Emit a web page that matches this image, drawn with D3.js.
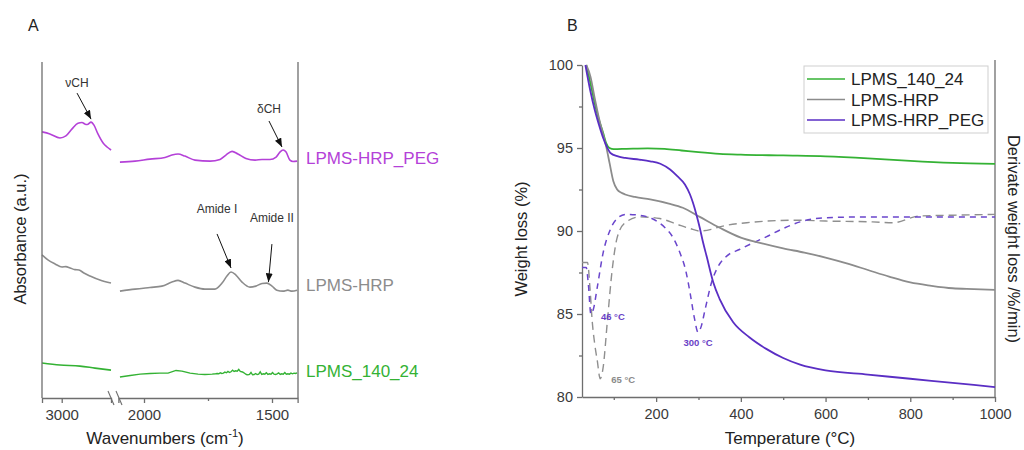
<!DOCTYPE html>
<html>
<head>
<meta charset="utf-8">
<script src="https://cdn.jsdelivr.net/npm/d3@7"></script>
<style>
  html, body { margin: 0; background: #fff; }
  svg { display: block; font-family: "Liberation Sans", Arial, sans-serif; }
  .axis path, .axis line { stroke: #6e6e6e; stroke-width: 1.3; }
  .axis text { fill: #3a3a3a; font-size: 14.5px; }
  .lbl { fill: #222; font-size: 16.5px; }
</style>
</head>
<body>
<svg id="chart" width="1024" height="450"></svg>
<script>
// ---- panel A: FTIR, [wavenumber, absorbance a.u.], split at the axis break ----
var pegHi = [[3080,79.2],[3048,78.6],[3007,77.4],[2983,78.0],[2958,80.1],[2934,81.8],[2918,82.0],[2901,81.4],
  [2893,81.5],[2881,82.1],[2869,81.2],[2853,78.6],[2832,75.9],[2816,74.7],[2800,73.8]];
var pegLo = [[2094,70.2],[2035,70.5],[1977,71.1],[1918,71.6],[1891,72.3],[1867,72.6],[1840,72.0],[1801,70.8],
  [1742,70.5],[1703,71.0],[1680,72.3],[1656,73.4],[1633,72.6],[1602,71.3],[1566,70.8],[1539,71.0],[1508,71.0],
  [1484,71.7],[1469,73.2],[1457,73.8],[1445,73.2],[1430,70.8],[1418,70.4],[1402,70.5]];
var hrpHi = [[3080,42.6],[3056,41.1],[3027,39.9],[2999,39.0],[2983,39.1],[2966,38.7],[2946,38.2],[2930,38.1],
  [2910,37.2],[2885,36.3],[2845,35.1],[2800,34.2]];
var hrpLo = [[2094,31.8],[2035,32.4],[1977,32.9],[1930,33.3],[1891,34.5],[1867,35.0],[1840,34.2],[1801,33.0],
  [1762,32.4],[1723,32.4],[1695,34.2],[1676,36.3],[1660,37.5],[1641,36.6],[1617,34.5],[1586,33.0],[1563,33.3],
  [1539,34.1],[1520,34.2],[1500,33.3],[1481,32.1],[1457,31.8],[1438,32.1],[1422,31.8],[1402,32.1]];
var lpmsHi = [[3080,10.4],[3007,9.8],[2926,9.5],[2865,8.9],[2800,8.3]];
var lpmsLo = [[2094,6.25],[2054,6.7],[2015,7.1],[1977,7.3],[1938,7.4],[1906,7.4],[1875,8.2],[1852,8.0],[1820,7.4],
  [1789,7.1],[1762,7.0],[1734,7.1],[1720,7.2],[1714,7.3],[1708,7.2],[1702,7.5],[1696,7.3],[1690,7.4],[1684,7.7],
  [1678,7.5],[1672,7.9],[1666,7.6],[1660,7.8],[1654,8.3],[1648,7.9],[1642,8.1],[1636,8.0],[1630,8.5],[1624,7.9],
  [1618,7.8],[1612,7.6],[1606,7.3],[1600,7.0],[1594,6.9],[1588,7.0],[1582,7.6],[1576,6.9],[1570,7.0],[1564,7.3],
  [1558,7.0],[1552,7.1],[1546,7.8],[1540,7.0],[1534,7.2],[1528,7.1],[1522,7.5],[1516,7.0],[1510,7.2],[1504,7.1],
  [1498,7.6],[1492,7.1],[1486,7.0],[1480,7.2],[1474,7.5],[1468,7.0],[1462,7.2],[1456,7.1],[1450,7.6],[1444,7.1],
  [1438,7.2],[1432,7.1],[1426,7.4],[1420,7.2],[1414,7.4],[1408,7.3],[1402,7.5]];
var ftirNames = ["LPMS-HRP_PEG", "LPMS-HRP", "LPMS_140_24"];
var ftirLabelAt = [71.5, 33.5, 8.0];           // absorbance level the side label sits on
var ftirTicksHi = [3000], ftirTicksLo = [2000, 1500], ftirMinorLo = [1750];
// peak annotations: tip in data space, tail/label offsets in px
var ftirNotes = [
  { t: "\u03BDCH", seg: "hi", wn: 2881, v: 83.0, dx: -14, dy: -26, ty: -32 },
  { t: "\u03B4CH", seg: "lo", wn: 1461, v: 74.7, dx: -13, dy: -26, ty: -34 },
  { t: "Amide I", seg: "lo", wn: 1660, v: 38.7, dx: -14, dy: -34, ty: -55 },
  { t: "Amide II", seg: "lo", wn: 1514, v: 34.5, dx: 3.5, dy: -38, ty: -60 }
];

// ---- panel B: TGA / DTG, [temperature °C, weight %] ----
var tgaLpms = [[35,100],[45,98.9],[55,97.7],[65,96.7],[75,95.9],[82,95.3],[90,95.0],[100,94.93],[130,94.95],
  [180,94.98],[220,94.95],[260,94.85],[300,94.75],[350,94.65],[400,94.6],[500,94.55],[600,94.5],[700,94.38],
  [800,94.22],[900,94.1],[1000,94.04]];
var tgaHrp = [[35,100],[45,99.3],[55,98.0],[65,96.8],[75,95.8],[82,95.1],[90,94.1],[99,93.0],[108,92.5],[118,92.3],
  [127,92.2],[150,92.05],[186,91.9],[230,91.65],[263,91.4],[303,90.85],[350,90.2],[400,89.6],[450,89.25],
  [500,88.95],[550,88.7],[600,88.4],[650,88.05],[700,87.65],[750,87.25],[800,86.9],[850,86.7],[900,86.55],
  [950,86.5],[1000,86.45]];
var tgaPeg = [[33,100],[45,98.4],[55,97.3],[65,96.4],[75,95.6],[85,95.0],[92,94.7],[110,94.5],[127,94.4],[160,94.3],
  [186,94.2],[210,94.05],[233,93.7],[250,93.3],[268,92.8],[280,92.2],[287,91.7],[295,91.0],[303,90.2],[310,89.4],
  [320,88.4],[335,86.9],[350,85.9],[382,84.5],[420,83.6],[460,82.9],[500,82.35],[540,81.95],[600,81.6],
  [700,81.35],[800,81.1],[900,80.85],[1000,80.6]];
var dtgPeg = [[25,87.8],[35,87.8],[40,86.8],[46,85.0],[52,85.3],[61,86.6],[75,88.7],[92,90.1],[110,90.8],[130,91.0],
  [160,90.95],[190,90.75],[221,90.2],[240,89.6],[256,88.7],[270,87.6],[280,86.3],[290,84.8],[299,83.9],[307,84.3],
  [315,85.2],[332,87.0],[345,87.8],[365,88.45],[398,88.9],[430,89.3],[460,89.65],[500,90.15],[540,90.55],
  [600,90.8],[700,90.85],[800,90.85],[900,90.85],[1000,90.85]];
var dtgHrp = [[25,88.1],[38,88.1],[44,86.5],[49,84.6],[55,83.2],[61,82.2],[68,81.1],[75,81.8],[85,84.6],[96,87.6],
  [108,89.6],[127,90.5],[162,90.85],[209,90.75],[250,90.4],[280,90.15],[303,90.0],[330,90.1],[350,90.25],
  [414,90.5],[531,90.65],[600,90.6],[711,90.55],[760,90.5],[820,90.9],[900,90.95],[1000,91.0]];
var tgaNames = ["LPMS_140_24", "LPMS-HRP", "LPMS-HRP_PEG"];
var tTicks = [200, 400, 600, 800, 1000], tMinor = [100, 300, 500, 700, 900];
var wTicks = [80, 85, 90, 95, 100], wMinor = [82.5, 87.5, 92.5, 97.5];
var dtgPeaks = [
  { t: "46 \u00B0C", T: 46, w: 85.0, dx: 10, dy: 6, anchor: "start", c: "#6a3fc6" },
  { t: "300 \u00B0C", T: 299, w: 83.9, dx: 0, dy: 14, anchor: "middle", c: "#6a3fc6" },
  { t: "65 \u00B0C", T: 68, w: 81.1, dx: 11, dy: 4, anchor: "start", c: "#8a8a8a" }
];

(function () {
  "use strict";
  var svg = d3.select("#chart");
  var GREEN = "#34b234", GRAY = "#8c8c8c", MAG = "#b441d8", INDIGO = "#5a2ec4", INDIGO_D = "#6a46cc";
  var fmt = d3.format("d");

  svg.append("defs").append("marker").attr("id", "arr").attr("viewBox", "0 0 10 8")
    .attr("refX", 10).attr("refY", 4).attr("markerWidth", 9).attr("markerHeight", 7)
    .attr("markerUnits", "userSpaceOnUse").attr("orient", "auto")
    .append("path").attr("d", "M0,0L10,4L0,8z").attr("fill", "#111");

  // ================= A =================
  var xHi = d3.scaleLinear().domain([3080, 2800]).range([42, 111]);
  var xLo = d3.scaleLinear().domain([2100, 1400]).range([118.4, 297.6]);
  var yA = d3.scaleLinear().domain([0, 100]).range([398, 62]);
  var gA = svg.append("g");

  function seg(xs) { return d3.line().x(function (d) { return xs(d[0]); }).y(function (d) { return yA(d[1]); }).curve(d3.curveMonotoneX); }
  var lineLo = d3.line().x(function (d) { return xLo(d[0]); }).y(function (d) { return yA(d[1]); });
  [[pegHi, pegLo, MAG], [hrpHi, hrpLo, GRAY], [lpmsHi, lpmsLo, GREEN]].forEach(function (s, i) {
    gA.append("path").attr("d", seg(xHi)(s[0])).attr("fill", "none").attr("stroke", s[2]).attr("stroke-width", 1.6);
    gA.append("path").attr("d", (i === 2 ? lineLo : seg(xLo))(s[1])).attr("fill", "none").attr("stroke", s[2])
      .attr("stroke-width", i === 2 ? 1.4 : 1.6);
    gA.append("text").attr("x", 306).attr("y", yA(ftirLabelAt[i]) + 6).attr("fill", s[2])
      .style("font-size", "17px").text(ftirNames[i]);
  });

  // axes + break
  var bot = yA(0);
  gA.append("line").attr("x1", 42).attr("x2", 42).attr("y1", yA(100)).attr("y2", bot).attr("class", "fr");
  gA.append("line").attr("x1", 298).attr("x2", 298).attr("y1", yA(100)).attr("y2", bot).attr("class", "fr");
  gA.selectAll("line.fr").attr("stroke", "#6e6e6e").attr("stroke-width", 1.3);
  gA.append("g").attr("class", "axis").attr("transform", "translate(0," + bot + ")")
    .call(d3.axisBottom(xHi).tickValues(ftirTicksHi).tickFormat(fmt).tickSize(5).tickSizeOuter(5).tickPadding(6));
  gA.append("g").attr("class", "axis").attr("transform", "translate(0," + bot + ")")
    .call(d3.axisBottom(xLo).tickValues(ftirTicksLo).tickFormat(fmt).tickSize(5).tickSizeOuter(5).tickPadding(6));
  gA.append("g").attr("class", "axis").attr("transform", "translate(0," + bot + ")")
    .call(d3.axisBottom(xLo).tickValues(ftirMinorLo).tickSize(3).tickFormat("")).select(".domain").remove();
  gA.selectAll(".axis text").style("font-size", "15px");
  [0, 8].forEach(function (o) {
    gA.append("line").attr("x1", 108 + o).attr("x2", 114 + o).attr("y1", bot - 7).attr("y2", bot + 7)
      .attr("stroke", "#6e6e6e").attr("stroke-width", 1.1);
  });

  ftirNotes.forEach(function (n) {
    var xs = n.seg === "hi" ? xHi : xLo, px = xs(n.wn), py = yA(n.v);
    gA.append("line").attr("x1", px + n.dx).attr("y1", py + n.dy).attr("x2", px).attr("y2", py)
      .attr("stroke", "#111").attr("stroke-width", 1).attr("marker-end", "url(#arr)");
    gA.append("text").attr("x", px + n.dx).attr("y", py + n.ty).attr("text-anchor", "middle")
      .attr("fill", "#333").style("font-size", "12px").text(n.t);
  });

  gA.append("text").attr("class", "lbl").attr("x", 28).attr("y", 31).style("font-size", "16px").text("A");
  gA.append("text").attr("class", "lbl").attr("transform", "translate(26,239) rotate(-90)")
    .attr("text-anchor", "middle").text("Absorbance (a.u.)");
  var xl = gA.append("text").attr("class", "lbl").attr("x", 165).attr("y", 444).attr("text-anchor", "middle")
    .style("font-size", "17px").text("Wavenumbers (cm");
  xl.append("tspan").attr("dy", -7).style("font-size", "11px").text("-1");
  xl.append("tspan").attr("dy", 7).text(")");

  // ================= B =================
  var x = d3.scaleLinear().domain([25, 1000]).range([582, 995]);
  var y = d3.scaleLinear().domain([80, 100]).range([397, 65]);
  var gB = svg.append("g");

  gB.append("g").attr("class", "axis").attr("transform", "translate(582,0)")
    .call(d3.axisLeft(y).tickValues(wTicks).tickFormat(fmt).tickSize(5).tickSizeOuter(0).tickPadding(4));
  gB.append("g").attr("class", "axis").attr("transform", "translate(582,0)")
    .call(d3.axisLeft(y).tickValues(wMinor).tickSize(3).tickFormat("")).select(".domain").remove();
  gB.append("g").attr("class", "axis").attr("transform", "translate(0,397)")
    .call(d3.axisBottom(x).tickValues(tTicks).tickFormat(fmt).tickSize(5).tickSizeOuter(0).tickPadding(7));
  gB.append("g").attr("class", "axis").attr("transform", "translate(0,397)")
    .call(d3.axisBottom(x).tickValues(tMinor).tickSize(3).tickFormat("")).select(".domain").remove();
  gB.append("line").attr("x1", 995).attr("x2", 995).attr("y1", 60).attr("y2", 397)
    .attr("stroke", "#6e6e6e").attr("stroke-width", 1.3);

  var ln = d3.line().x(function (d) { return x(d[0]); }).y(function (d) { return y(d[1]); }).curve(d3.curveMonotoneX);
  gB.append("path").attr("d", ln(dtgHrp)).attr("fill", "none").attr("stroke", "#8f8f8f").attr("stroke-width", 1.4).attr("stroke-dasharray", "8,5");
  gB.append("path").attr("d", ln(dtgPeg)).attr("fill", "none").attr("stroke", INDIGO_D).attr("stroke-width", 1.5).attr("stroke-dasharray", "6,5");
  var tgaCols = [GREEN, GRAY, INDIGO];
  [tgaLpms, tgaHrp, tgaPeg].forEach(function (s, i) {
    gB.append("path").attr("d", ln(s)).attr("fill", "none").attr("stroke", tgaCols[i]).attr("stroke-width", 1.8);
  });

  dtgPeaks.forEach(function (p) {
    gB.append("text").attr("x", x(p.T) + p.dx).attr("y", y(p.w) + p.dy).attr("text-anchor", p.anchor)
      .attr("fill", p.c).style("font-size", "9.5px").style("font-weight", "bold").text(p.t);
  });

  // legend
  var lg = gB.append("g").attr("transform", "translate(804,66)");
  lg.append("rect").attr("width", 184).attr("height", 67).attr("fill", "#fff").attr("stroke", "#cfcfcf");
  tgaNames.forEach(function (nm, i) {
    var yy = 13 + i * 20.5;
    lg.append("line").attr("x1", 3).attr("x2", 41).attr("y1", yy).attr("y2", yy).attr("stroke", tgaCols[i]).attr("stroke-width", 1.6);
    lg.append("text").attr("x", 47).attr("y", yy + 6).attr("fill", "#222").style("font-size", "17px").text(nm);
  });

  gB.append("text").attr("class", "lbl").attr("x", 567).attr("y", 31).style("font-size", "16px").text("B");
  gB.append("text").attr("class", "lbl").attr("transform", "translate(527,239) rotate(-90)")
    .attr("text-anchor", "middle").text("Weight loss (%)");
  gB.append("text").attr("class", "lbl").attr("transform", "translate(1008,239) rotate(90)")
    .attr("text-anchor", "middle").text("Derivate weight loss /%/min)");
  gB.append("text").attr("class", "lbl").attr("x", 790).attr("y", 444).attr("text-anchor", "middle")
    .style("font-size", "17px").text("Temperature (\u00B0C)");
})();
</script>
</body>
</html>
